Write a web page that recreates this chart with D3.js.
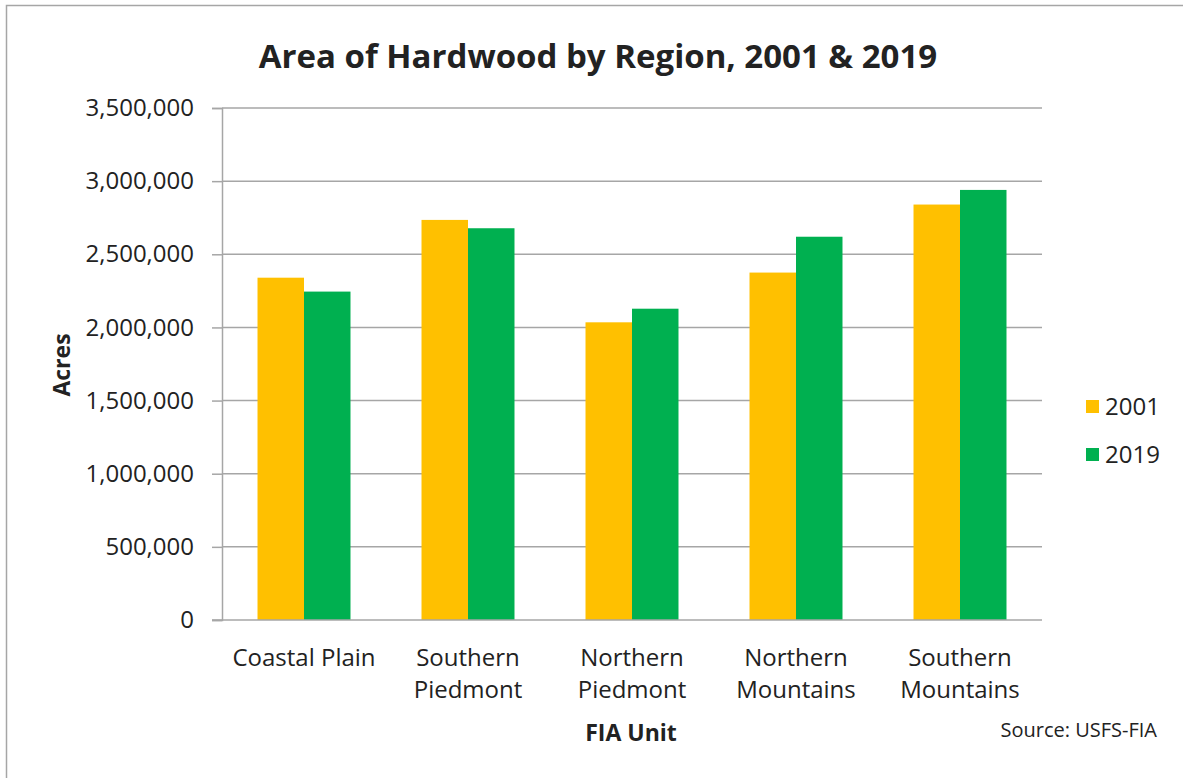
<!DOCTYPE html>
<html>
<head>
<meta charset="utf-8">
<script src="https://cdnjs.cloudflare.com/ajax/libs/d3/7.8.5/d3.min.js"></script>
<style>
  body { margin: 0; background: #fff; }
  svg { display: block; }
  text { font-family: "Open Sans", "DejaVu Sans", sans-serif; fill: #222; }
</style>
</head>
<body>
<div id="main"></div>
<script>
const regions = [['Coastal Plain'], ['Southern', 'Piedmont'], ['Northern', 'Piedmont'], ['Northern', 'Mountains'], ['Southern', 'Mountains']];
const years = ['2001', '2019'];
const acres2001 = [2340000, 2735000, 2035000, 2375000, 2840000];
const acres2019 = [2245000, 2678000, 2128000, 2620000, 2940000];
const yTicks = [0, 500000, 1000000, 1500000, 2000000, 2500000, 3000000, 3500000];
const colors = ['#FFC000', '#00B050'];

const
  width = 1183,
  height = 778;

const margin = { left: 222, right: 1042, top: 108, bottom: 620 };

const svg = d3.select('div#main').append('svg').attr('width', width).attr('height', height);

// frame (only top and left edges show in the crop)
svg.append('rect').attr('x', 6.5).attr('y', 5.5).attr('width', width + 20).attr('height', height + 20)
  .attr('fill', 'none').attr('stroke', '#a6a6a6').attr('stroke-width', 1.5);

const x = d3.scaleBand()
            .domain(regions.map((d, i) => i))
            .range([margin.left, margin.right])
            .paddingInner(0.433).paddingOuter(0.2165);

const x1 = d3.scaleBand().domain(years).range([0, x.bandwidth()]);

const y = d3.scaleLinear()
            .domain([0, 3500000]).range([margin.bottom, margin.top]);

// gridlines
svg.append('g').selectAll('line').data(yTicks.slice(1)).join('line')
  .attr('x1', margin.left).attr('x2', margin.right)
  .attr('y1', d => y(d)).attr('y2', d => y(d))
  .attr('stroke', '#a6a6a6').attr('stroke-width', 1.5);

// y axis
const yAxis = d3.axisLeft(y).tickValues(yTicks).tickSize(10).tickPadding(18)
                .tickFormat(d3.format(','));
const yG = svg.append('g').attr('transform', `translate(${margin.left}, 0)`).call(yAxis);
yG.select('.domain').attr('stroke', '#a6a6a6').attr('stroke-width', 1.5);
yG.selectAll('.tick line').attr('stroke', '#a6a6a6').attr('stroke-width', 1.5);
yG.selectAll('.tick text').attr('font-size', 24).attr('fill', '#222')
  .style('font-family', '"Open Sans", sans-serif');

// bars
const series = [acres2001, acres2019];
years.forEach((yr, s) => {
  svg.append('g').selectAll('rect').data(series[s]).join('rect')
    .attr('x', (d, i) => x(i) + x1(yr))
    .attr('y', d => y(d))
    .attr('width', x1.bandwidth())
    .attr('height', d => y(0) - y(d))
    .attr('fill', colors[s]);
});

// x baseline
svg.append('line').attr('x1', margin.left - 10).attr('x2', margin.right)
  .attr('y1', y(0)).attr('y2', y(0)).attr('stroke', '#a6a6a6').attr('stroke-width', 1.5);

// category labels
const cat = svg.append('g').selectAll('text').data(regions).join('text')
  .attr('x', (d, i) => x(i) + x.bandwidth() / 2)
  .attr('y', 666)
  .attr('text-anchor', 'middle')
  .attr('font-size', 24);
cat.selectAll('tspan').data(d => d).join('tspan')
  .attr('x', function () { return this.parentNode.getAttribute('x'); })
  .attr('dy', (d, i) => i === 0 ? 0 : 32)
  .text(d => d);

// title
svg.append('text').attr('x', 598).attr('y', 68).attr('text-anchor', 'middle')
  .attr('font-size', 33).attr('font-weight', 'bold').attr('fill', '#000')
  .text('Area of Hardwood by Region, 2001 & 2019');

// axis titles
svg.append('text').attr('transform', 'translate(70, 365) rotate(-90)')
  .attr('text-anchor', 'middle').attr('font-size', 23).attr('font-weight', 'bold').attr('fill', '#000')
  .text('Acres');
svg.append('text').attr('x', 631).attr('y', 741).attr('text-anchor', 'middle')
  .attr('font-size', 23).attr('font-weight', 'bold').attr('fill', '#000')
  .text('FIA Unit');

// source
svg.append('text').attr('x', 1157).attr('y', 737).attr('text-anchor', 'end')
  .attr('font-size', 20).text('Source: USFS-FIA');

// legend
const leg = svg.append('g').selectAll('g').data(years).join('g')
  .attr('transform', (d, i) => `translate(1086, ${400 + i * 48})`);
leg.append('rect').attr('width', 13).attr('height', 13).attr('fill', (d, i) => colors[i]);
leg.append('text').attr('x', 19).attr('y', 15).attr('font-size', 24).text(d => d);
</script>
</body>
</html>
